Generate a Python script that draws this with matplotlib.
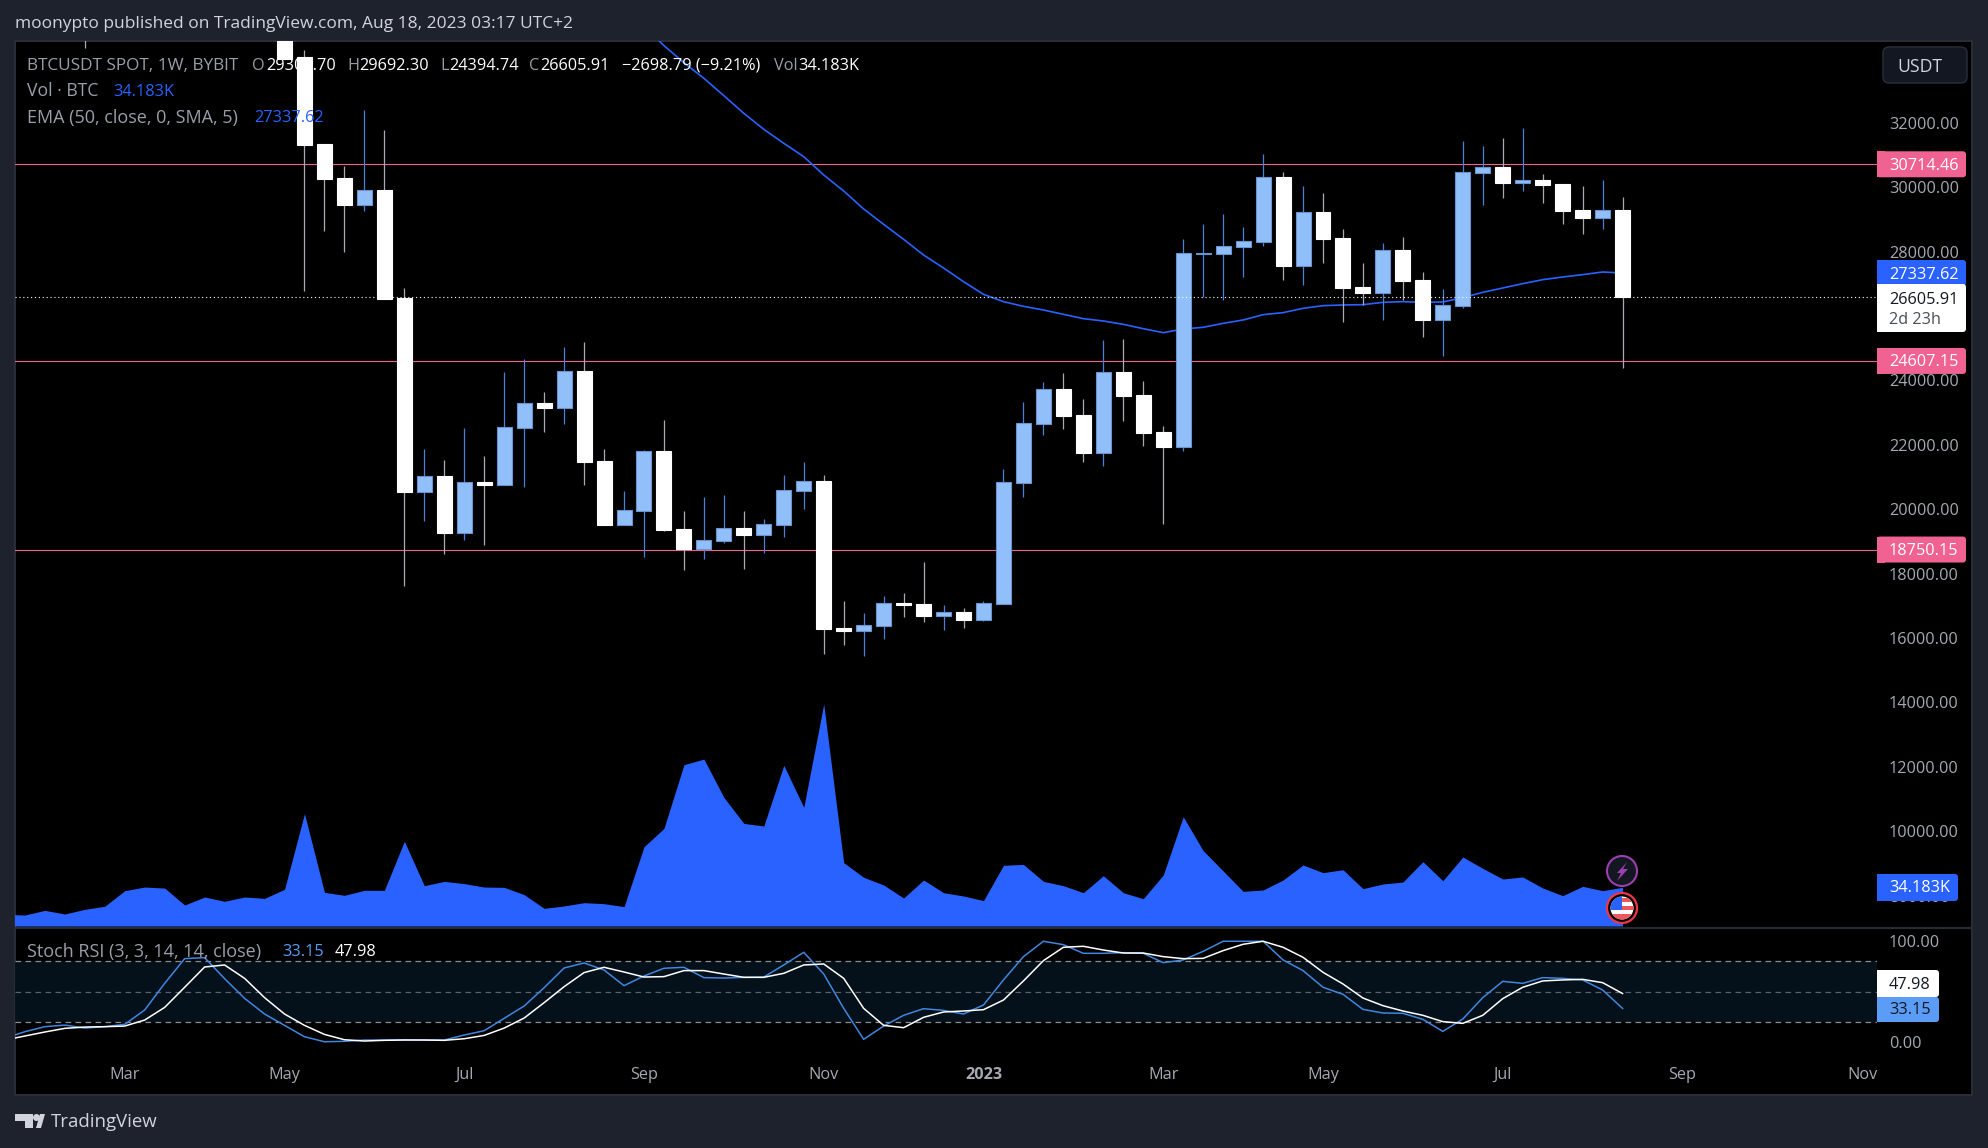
import matplotlib
matplotlib.use('Agg')
import matplotlib.pyplot as plt
from matplotlib.patches import Rectangle, FancyBboxPatch, Circle, Polygon

W, H = 1988, 1148
FONT = 'Open Sans'
plt.rcParams['font.family'] = [FONT, 'DejaVu Sans']

BG = '#1e222d'
BORDER = '#2a2e39'
PINK = '#f06292'
BLUE = '#2962ff'
LIGHT_BLUE = '#5b9cf6'
UP_BODY = '#90bff9'
UP_EDGE = '#6c93cf'
UP_WICK = '#4a80d8'
DOWN_WICK = '#a8abb4'
GREY = '#9a9ea8'
SCALE = '#a6a9b1'
NUM_SIZE = 11.7
TXT_SIZE = 12.7

# weekly candles, week 0 is the first week of May 2022
candle_week = [-10] + list(range(0, 68))
opens = [42000, 35500, 34046, 31345, 30289, 29460, 29916, 26572, 20548, 21034, 19274, 20848, 20765, 22535,
         23302, 23157, 24295, 21500, 19522, 19957, 21810, 19388, 18777, 19025, 19419, 19212, 19522, 20578,
         20878, 16313, 16230, 16386, 17090, 17058, 16686, 16810, 16572, 17069, 20827, 22660, 23736, 22929,
         21759, 24264, 23550, 22400, 21935, 27930, 27939, 28156, 28311, 30320, 27566, 29233, 28425, 26904,
         26728, 28053, 27121, 25889, 26324, 30454, 30630, 30144, 30227, 30102, 29295, 29057, 29304.70]
highs = [44000, 36000, 34263, 31345, 30662, 32400, 31780, 26873, 21873, 21531, 22525, 21655, 24264, 24668,
         23643, 25041, 25196, 21873, 20568, 21841, 22773, 19947, 20381, 20444, 19947, 19698, 21065, 21469,
         21065, 17152, 16779, 17307, 17400, 18363, 17027, 16934, 17152, 21251, 23332, 23954, 24233, 23426,
         25258, 25289, 23984, 22587, 28394, 28860, 29171, 28767, 31034, 30475, 30040, 29823, 28705, 27649,
         28270, 28457, 27369, 26841, 31438, 31283, 31531, 31842, 30413, 30102, 30040, 30227, 29692.30]
lows = [34335, 33994, 26789, 28652, 28000, 29273, 26540, 17625, 19637, 18612, 19047, 18891, 20765, 20693,
        22401, 22649, 20755, 19513, 19522, 18518, 19326, 18115, 18456, 18953, 18145, 18642, 19139, 20009,
        15506, 15785, 15444, 15972, 16655, 16500, 16251, 16313, 16530, 17058, 20381, 22307, 22494, 21469,
        21355, 22742, 21966, 19544, 21810, 26593, 26500, 27214, 28177, 27121, 26966, 27649, 25817, 26345,
        25879, 26500, 25351, 24761, 26251, 29450, 29668, 29885, 29512, 28860, 28550, 28705, 24394.74]
closes = [40000, 33994, 31314, 30258, 29460, 29916, 26540, 20537, 21034, 19264, 20838, 20755, 22546, 23291,
          23146, 24285, 21469, 19513, 19967, 21810, 19357, 18767, 19036, 19408, 19201, 19533, 20589, 20868,
          16282, 16220, 16396, 17079, 17027, 16686, 16800, 16562, 17079, 20837, 22670, 23726, 22898, 21748,
          24254, 23519, 22369, 21935, 27949, 27949, 28167, 28322, 30309, 27556, 29222, 28394, 26873, 26717,
          28042, 27090, 25879, 26334, 30465, 30620, 30133, 30216, 30071, 29264, 29046, 29285, 26605.91]

ema_week = list(range(18, 68))
ema = [35000, 34400, 33870, 33384, 32845, 32297, 31800, 31365, 30951, 30382, 29885, 29326, 28849, 28384,
       27897, 27493, 27069, 26675, 26448, 26303, 26189, 26055, 25920, 25848, 25744, 25609, 25485, 25599,
       25651, 25775, 25879, 26044, 26107, 26241, 26324, 26345, 26355, 26427, 26448, 26427, 26438, 26572,
       26738, 26873, 27007, 27131, 27214, 27287, 27369, 27337.62]

pane_week = list(range(-14, 68))
volume_k = [10.3, 9.7, 13.8, 10.6, 14.7, 17.4, 31.2, 34.4, 33.5, 18.5, 25.6, 21.8, 25.6, 24.4,
            32.4, 99.2, 29.7, 27.1, 31.5, 31.5, 74.8, 35.6, 39.4, 37.4, 34.4, 34.1, 27.7, 15.6,
            17.7, 20.6, 19.7, 17.1, 70.0, 86.2, 142.4, 147.4, 113.6, 90.6, 88.3, 141.9, 104.8, 196.0,
            55.9, 43.0, 36.2, 24.7, 40.6, 29.4, 26.5, 22.4, 53.6, 54.4, 39.4, 35.6, 29.4, 44.4,
            29.4, 24.1, 45.0, 96.5, 66.5, 48.6, 30.6, 31.8, 40.6, 53.9, 47.1, 49.7, 33.0, 37.1,
            38.8, 56.8, 40.0, 60.9, 50.9, 41.5, 43.3, 33.6, 26.8, 35.0, 31.2, 34.183]
stoch_k = [3.4, 10, 15, 16.6, 13.6, 15, 17.3, 31.6, 58.1, 82.7, 83.7, 62.8, 43.2, 27.6,
           16.3, 5, 0, 0.4, 1.7, 1.7, 2, 1.7, 1.7, 6.7, 11, 23.3, 35.6, 53.8,
           73.4, 78.4, 71.4, 55.8, 65.4, 73.1, 74.1, 63.8, 63.4, 64.1, 64.4, 76.4, 89, 67.4,
           33.2, 2.4, 15.6, 26.3, 32.9, 31.2, 27.6, 36.6, 61.5, 84.7, 100, 96.6, 88, 88,
           88.7, 88, 78.7, 81.4, 90, 100, 100, 100, 81.4, 70.8, 54.2, 47.2, 32.2, 28.6,
           28.3, 22.3, 10.3, 22.6, 43.9, 60.1, 58.1, 63.8, 63.1, 61.5, 51.5, 33.15]
stoch_d = [1.7, 5.7, 9.7, 13.3, 14.6, 15, 15.6, 21.6, 34.2, 54.2, 74.4, 76.4, 63.1, 43.9,
           27.6, 16.3, 7.3, 2, 0.7, 1.4, 1.7, 1.7, 1.4, 3, 6.3, 13.6, 23.6, 38.9,
           54.8, 68.8, 74.1, 69.4, 64.4, 64.8, 70.8, 70.8, 67.4, 64.1, 64.1, 68.1, 76.4, 77.4,
           63.1, 33.2, 16.3, 14, 24.3, 29.6, 30.6, 31.9, 41.5, 60.5, 80.7, 94, 95, 91.3,
           88.3, 88.3, 84.7, 82.7, 83, 90.7, 97, 100, 94, 84, 69.1, 57.5, 43.5, 35.9,
           30.6, 26.3, 20, 18.3, 26.3, 42.9, 54.2, 60.5, 61.5, 62.1, 58.8, 47.98]

levels = [30714.46, 24607.15, 18750.15]
last_close = 26605.91
last_ema = 27337.62
# 26000 sits behind the last price box in the reference
price_ticks = [8000, 10000, 12000, 14000, 16000, 18000, 20000, 22000, 24000, 28000, 30000, 32000]
time_weeks = [-8, 0, 9, 18, 27, 35, 44, 52, 61, 70, 79]
time_labels = ['Mar', 'May', 'Jul', 'Sep', 'Nov', '2023', 'Mar', 'May', 'Jul', 'Sep', 'Nov']


def pane(x0, y0, x1, y1, z):
    ax = fig.add_axes([x0 / W, 1 - y1 / H, (x1 - x0) / W, (y1 - y0) / H], zorder=z)
    ax.patch.set_visible(False)
    for s in ax.spines.values():
        s.set_visible(False)
    return ax


def px_y(ax, value):
    return H - ax.transData.transform((0, value))[1]


def tag(y0, y1, color, x1=1966):
    # value box on the price scale, only the right corners are rounded
    ov.add_patch(FancyBboxPatch((1877, y0), x1 - 1877, y1 - y0, boxstyle='round,pad=0,rounding_size=3',
                                fc=color, ec='none', zorder=5))
    ov.add_patch(Rectangle((1877, y0), 8, y1 - y0, fc=color, ec='none', zorder=5.2))


def label(x, y, s, color, size=NUM_SIZE, **kw):
    return ov.text(x, y + 1.5, s, color=color, fontsize=size, va='center', ha='left', zorder=6, **kw)


fig = plt.figure(figsize=(W / 100, H / 100), dpi=100, facecolor=BG)

# frame and black background
base = fig.add_axes([0, 0, 1, 1], zorder=0)
base.set_xlim(0, W)
base.set_ylim(H, 0)
base.axis('off')
base.add_patch(Rectangle((15, 41), 1957, 1054, fc='black', ec=BORDER, lw=1.4))

xlim = (-13.495, 79.74)

# volume area sits under the candles
vol = pane(15, 41, 1877, 928, 1)
vol.fill_between(pane_week, volume_k, 0, color=BLUE, lw=0)
vol.set_xlim(xlim)
vol.set_ylim(-1.77, 781.5)
vol.set_xticks([])
vol.set_yticks([])

# price pane
ax = pane(15, 41, 1877, 928, 2)
ax.set_xlim(xlim)
ax.set_ylim(6997, 34543)
for lv in levels:
    ax.axhline(lv, color=PINK, lw=0.8, zorder=1)
ax.plot(ema_week, ema, color=BLUE, lw=1.2, zorder=2)

colors = [c >= o for o, c in zip(opens, closes)]
for w, o, h, l, c, up in zip(candle_week, opens, highs, lows, closes, colors):
    ax.vlines(w, l, h, color=UP_WICK if up else DOWN_WICK, lw=0.9, zorder=3)
    ax.bar(w, abs(c - o), bottom=min(o, c), width=0.75, zorder=4,
           color=UP_BODY if up else 'white', edgecolor=UP_EDGE if up else 'white', lw=0.8)
ax.axhline(last_close, color='white', lw=0.8, ls=(0, (1, 2.5)), zorder=5)

ax.yaxis.tick_right()
ax.set_yticks(price_ticks)
ax.set_yticklabels(['%.2f' % t for t in price_ticks])
ax.tick_params(axis='y', length=0, pad=8.6, labelsize=NUM_SIZE, labelcolor=SCALE)
ax.set_xticks([])

# stochastic pane
st = pane(15, 928, 1877, 1055, 2)
st.set_xlim(xlim)
st.set_ylim(-13.2, 113.2)
st.axhspan(20, 80, color='#05111a', lw=0, zorder=0)
for v, col in [(80, '#8a8d96'), (50, '#5d6069'), (20, '#8a8d96')]:
    st.axhline(v, color=col, lw=0.9, ls=(0, (4.5, 3.5)), zorder=1)
st.plot(pane_week, stoch_k, color='#3f86e0', lw=1.1, zorder=2)
st.plot(pane_week, stoch_d, color='white', lw=1.1, zorder=3)
st.yaxis.tick_right()
st.set_yticks([0, 100])
st.set_yticklabels(['0.00', '100.00'])
st.tick_params(axis='y', length=0, pad=8.6, labelsize=NUM_SIZE, labelcolor=SCALE)
st.set_xticks(time_weeks)
st.set_xticklabels(time_labels)
st.tick_params(axis='x', length=0, pad=8.6, labelsize=NUM_SIZE, labelcolor=SCALE)
st.get_xticklabels()[5].set_fontweight('bold')

# overlay in reference pixels for the texts and value boxes
ov = fig.add_axes([0, 0, 1, 1], zorder=3)
ov.set_xlim(0, W)
ov.set_ylim(H, 0)
ov.axis('off')
ov.plot([15, 1972], [928, 928], color=BORDER, lw=1.4, zorder=4)

label(15, 23, 'moonypto published on TradingView.com, Aug 18, 2023 03:17 UTC+2', '#d1d4dc', size=12.5)
label(27, 64, 'BTCUSDT SPOT, 1W, BYBIT', GREY, size=12.4)
for x, s in [(252, 'O'), (347, 'H'), (440, 'L'), (529, 'C'), (774, 'Vol')]:
    label(x, 64, s, GREY)
for x, s in [(266, '29304.70'), (359, '29692.30'), (449, '24394.74'), (540, '26605.91'),
             (622, '\u22122698.79 (\u22129.21%)'), (798, '34.183K')]:
    label(x, 64, s, 'white')
label(27, 90, 'Vol \u00b7 BTC', GREY, size=TXT_SIZE)
label(113, 90, '34.183K', BLUE)
label(27, 116, 'EMA (50, close, 0, SMA, 5)', GREY, size=TXT_SIZE + 0.3)
label(254, 116, '27337.62', BLUE)
label(27, 951, 'Stoch RSI (3, 3, 14, 14, close)', GREY, size=13)
label(282, 951, '33.15', LIGHT_BLUE)
label(335, 951, '47.98', 'white')

# level tags, taken from the axis so they stay on the lines
for lv in levels:
    yc = px_y(ax, lv)
    tag(yc - 13, yc + 13, PINK)
    label(1889, yc, '%.2f' % lv, 'white')
y_ema = px_y(ax, last_ema)
tag(y_ema - 13, y_ema + 13, BLUE)
label(1889, y_ema, '%.2f' % last_ema, 'white')
tag(284, 332, 'white')
label(1889, 298, '%.2f' % last_close, '#131722')
label(1889, 319, '2d 23h', '#4a4e57')
tag(874, 901, BLUE, x1=1958)
label(1889, 887, '34.183K', 'white')
tag(970, 997, 'white', x1=1939)
label(1889, 983.5, '47.98', '#131722')
tag(997, 1022, LIGHT_BLUE, x1=1939)
label(1889, 1009, '33.15', '#131722')

# USDT button
ov.add_patch(FancyBboxPatch((1883, 47), 84, 36, boxstyle='round,pad=0,rounding_size=6',
                            fc='#131722', ec=BORDER, lw=1, zorder=5))
label(1897, 65, 'USDT', '#d1d4dc', size=TXT_SIZE)

# event icons above the last candle
ov.add_patch(Circle((1622, 871), 15, fc='#131722', ec='#9c3fb0', lw=1.5, zorder=5))
ov.add_patch(Polygon([[1627, 862], [1617, 873], [1621, 873], [1617, 881], [1628, 869], [1623, 869]],
                     fc='#9c3fb0', ec='none', zorder=6))
ov.add_patch(Circle((1622, 908), 15, fc='black', ec='#f23645', lw=1.6, zorder=5))
flag = Circle((1622, 908), 11.5, fc='white', ec='none', zorder=6)
ov.add_patch(flag)
for y0, hh in [(898, 4), (906, 4), (914, 7)]:
    r = Rectangle((1610, y0), 24, hh, fc='#f0575a', ec='none', zorder=6.1)
    ov.add_patch(r)
    r.set_clip_path(flag)
canton = Rectangle((1610, 896), 12, 14, fc='#2962ff', ec='none', zorder=6.2)
ov.add_patch(canton)
canton.set_clip_path(flag)

# TradingView mark
ov.add_patch(Polygon([[15, 1114], [33, 1114], [33, 1128], [25, 1128], [25, 1121], [15, 1121]],
                     fc='#d1d4dc', ec='none', zorder=6))
ov.add_patch(Circle((36.5, 1117.5), 3.5, fc='#d1d4dc', ec='none', zorder=6))
ov.add_patch(Polygon([[36, 1128], [40, 1114], [45, 1114], [41, 1128]], fc='#d1d4dc', ec='none', zorder=6))
label(51, 1120.5, 'TradingView', '#d1d4dc', size=13.4)

fig.savefig('out.png', dpi=100, facecolor=BG)
